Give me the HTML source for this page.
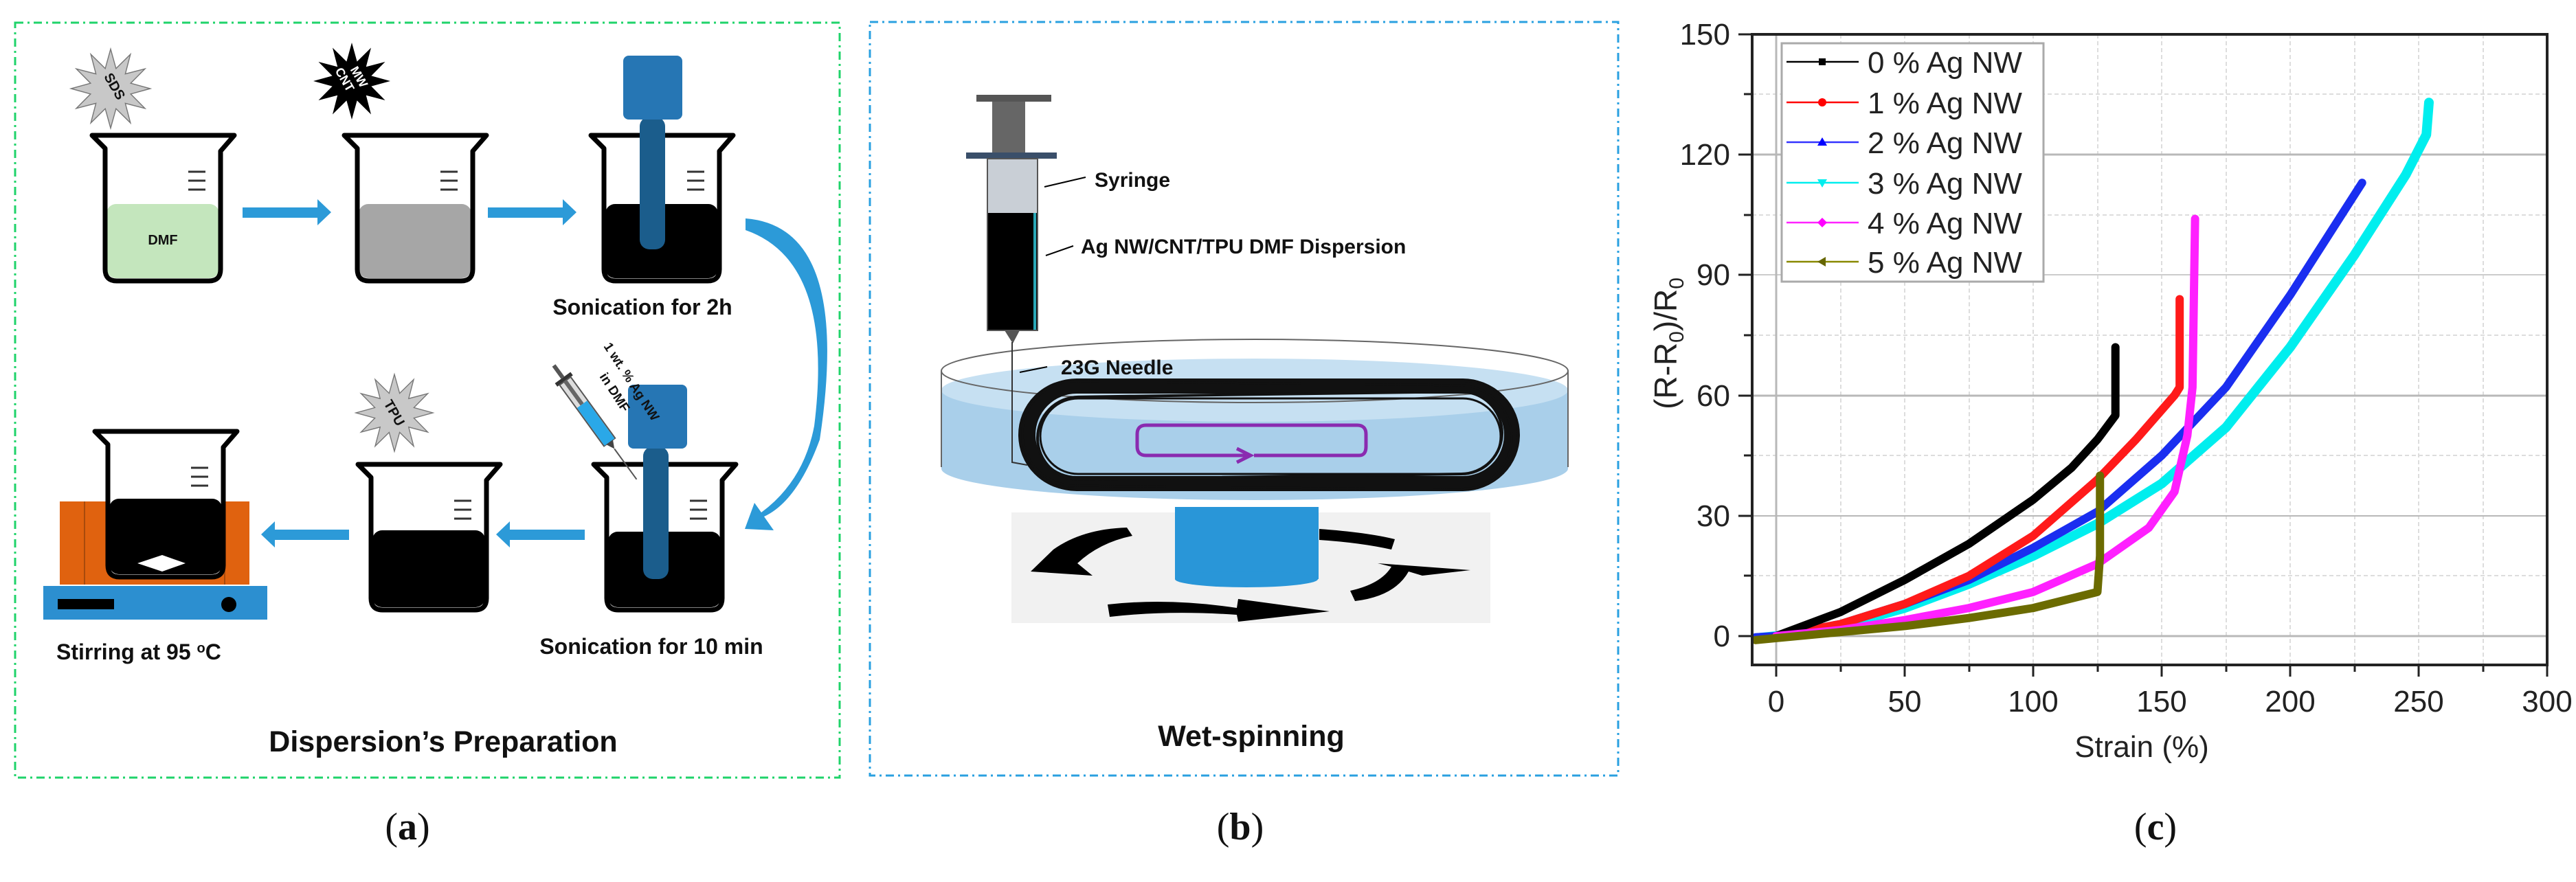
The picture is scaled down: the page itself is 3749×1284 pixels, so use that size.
<!DOCTYPE html>
<html><head><meta charset="utf-8"><style>
html,body{margin:0;padding:0;background:#fff;}
svg{display:block;}
text{font-family:"Liberation Sans",sans-serif;}
.b{font-weight:bold;fill:#111;}
.ser{font-family:"Liberation Serif",serif;font-size:56px;fill:#111;}
</style></head><body>
<svg width="3749" height="1284" viewBox="0 0 3749 1284" xmlns="http://www.w3.org/2000/svg">
<defs>
<g id="beaker">
<path d="M5,3 L212,3 L192,26 L192,198 Q192,215 175,215 L41,215 Q24,215 24,198 L24,22 Z" fill="#fff" stroke="none"/>
</g>
<g id="bkout">
<path d="M5,3 L212,3 L192,26 L192,198 Q192,215 175,215 L41,215 Q24,215 24,198 L24,22 Z" fill="none" stroke="#000" stroke-width="7" stroke-linejoin="round"/>
<line x1="145" y1="56" x2="170" y2="56" stroke="#333" stroke-width="3"/>
<line x1="145" y1="69" x2="170" y2="69" stroke="#333" stroke-width="3"/>
<line x1="145" y1="82" x2="170" y2="82" stroke="#333" stroke-width="3"/>
</g>
<polygon id="star" points="80,0 40.6,10.9 69.3,40 29.7,29.7 40,69.3 10.9,40.6 0,80 -10.9,40.6 -40,69.3 -29.7,29.7 -69.3,40 -40.6,10.9 -80,0 -40.6,-10.9 -69.3,-40 -29.7,-29.7 -40,-69.3 -10.9,-40.6 0,-80 10.9,-40.6 40,-69.3 29.7,-29.7 69.3,-40 40.6,-10.9"/>
</defs>

<!-- ===== Panel a ===== -->
<rect x="22" y="33" width="1200" height="1099" fill="none" stroke="#1fd36a" stroke-width="3" stroke-dasharray="12,6,3,6"/>

<use href="#star" transform="translate(161,129) scale(0.72)" fill="#c8c8c8" stroke="#777" stroke-width="2"/>
<text x="161" y="129" class="b" font-size="20" text-anchor="middle" transform="rotate(60 161 129)">SDS</text>
<use href="#star" transform="translate(512,118) scale(0.7)" fill="#000"/>
<text x="512" y="112" font-size="18" font-weight="bold" fill="#fff" text-anchor="middle" transform="rotate(60 512 118)">MW</text>
<text x="505" y="132" font-size="18" font-weight="bold" fill="#fff" text-anchor="middle" transform="rotate(60 512 118)">CNT</text>
<use href="#star" transform="translate(574,601) scale(0.7)" fill="#c8c8c8" stroke="#777" stroke-width="2"/>
<text x="574" y="608" class="b" font-size="20" text-anchor="middle" transform="rotate(60 574 601)">TPU</text>

<g transform="translate(129,194)"><use href="#beaker"/><rect x="26" y="103" width="164" height="108" rx="14" fill="#c4e6bd"/><use href="#bkout"/>
<text x="108" y="162" class="b" font-size="20" text-anchor="middle">DMF</text></g>
<g transform="translate(496,194)"><use href="#beaker"/><rect x="26" y="103" width="164" height="108" rx="14" fill="#a6a6a6"/><use href="#bkout"/></g>
<g transform="translate(855,194)"><use href="#beaker"/><rect x="26" y="103" width="164" height="108" rx="14" fill="#000"/><use href="#bkout"/></g>
<rect x="931" y="170" width="37" height="193" rx="14" fill="#1b5d8c"/>
<rect x="907" y="81" width="86" height="93" rx="8" fill="#2676b4"/>
<text x="935" y="458" class="b" font-size="32" text-anchor="middle">Sonication for 2h</text>

<g fill="#2c9ad8">
<rect x="353" y="302" width="112" height="15"/><polygon points="462,290 482,309 462,328"/>
<rect x="710" y="302" width="112" height="15"/><polygon points="819,290 839,309 819,328"/>
<rect x="400" y="771" width="108" height="15"/><polygon points="400,759 380,778 400,797"/>
<rect x="742" y="771" width="109" height="15"/><polygon points="742,759 722,778 742,797"/>
<path d="M1085,318 Q1240,330 1193,640 Q1160,730 1112,752 L1126,772 L1084,770 L1098,732 L1108,746 Q1170,700 1185,620 Q1215,380 1085,335 Z"/>
</g>

<g transform="translate(859,673)"><use href="#beaker"/><rect x="26" y="101" width="164" height="110" rx="14" fill="#000"/><use href="#bkout"/></g>
<rect x="936" y="650" width="37" height="193" rx="14" fill="#1b5d8c"/>
<rect x="914" y="560" width="86" height="93" rx="8" fill="#2676b4"/>
<g transform="translate(806,532) rotate(54)">
<rect x="0" y="-3" width="22" height="6" fill="#555"/>
<rect x="22" y="-14" width="6" height="28" fill="#333"/>
<rect x="28" y="-10" width="110" height="20" fill="#ddd" stroke="#555" stroke-width="2"/>
<rect x="70" y="-9" width="68" height="18" fill="#2aa8e8"/>
<rect x="28" y="-3" width="42" height="6" fill="#666"/>
<polygon points="138,-6 150,0 138,6" fill="#444"/>
<line x1="150" y1="0" x2="205" y2="0" stroke="#555" stroke-width="2"/>
</g>
<text x="878" y="504" class="b" font-size="19" transform="rotate(57 878 504)">1 wt. % Ag NW</text>
<text x="872" y="548" class="b" font-size="19" transform="rotate(57 872 548)">in DMF</text>
<text x="948" y="952" class="b" font-size="32" text-anchor="middle">Sonication for 10 min</text>

<g transform="translate(516,673)"><use href="#beaker"/><rect x="26" y="99" width="164" height="112" rx="14" fill="#000"/><use href="#bkout"/></g>

<rect x="87" y="730" width="276" height="121" fill="#e0620f"/>
<line x1="123" y1="730" x2="123" y2="851" stroke="#a84a0c" stroke-width="2"/>
<line x1="327" y1="730" x2="327" y2="851" stroke="#a84a0c" stroke-width="2"/>
<g transform="translate(133,625)"><use href="#beaker"/><rect x="26" y="101" width="164" height="110" rx="14" fill="#000"/><use href="#bkout"/></g>
<polygon points="200,820 236,808 270,820 236,832" fill="#fff"/>
<rect x="63" y="853" width="326" height="49" fill="#2c8fd0"/>
<rect x="84" y="872" width="82" height="15" fill="#000"/>
<circle cx="333" cy="880" r="11" fill="#000"/>
<text x="82" y="960" class="b" font-size="32">Stirring at 95 <tspan font-size="20" dy="-10">o</tspan><tspan dy="10">C</tspan></text>

<text x="645" y="1094" class="b" font-size="43" text-anchor="middle">Dispersion’s Preparation</text>
<text x="593" y="1222" class="ser" text-anchor="middle">(<tspan font-weight="bold">a</tspan>)</text>

<!-- ===== Panel b ===== -->
<rect x="1266" y="32" width="1089" height="1097" fill="none" stroke="#2aa0e0" stroke-width="3" stroke-dasharray="12,6,3,6"/>
<rect x="1472" y="746" width="697" height="161" fill="#f1f1f1"/>
<ellipse cx="1826" cy="682" rx="456" ry="46" fill="#a9cfea"/>
<rect x="1370" y="568" width="912" height="114" fill="#a9cfea"/>
<ellipse cx="1826" cy="568" rx="456" ry="46" fill="#c6e0f2"/>
<ellipse cx="1826" cy="540" rx="456" ry="46" fill="none" stroke="#666" stroke-width="2"/>
<line x1="1370" y1="540" x2="1370" y2="680" stroke="#666" stroke-width="2"/>
<line x1="2282" y1="540" x2="2282" y2="680" stroke="#666" stroke-width="2"/>
<g fill="none" stroke="#111">
<rect x="1496" y="562" width="704" height="142" rx="71" stroke-width="22"/>
<rect x="1484" y="554" width="726" height="158" rx="79" stroke-width="4"/>
<rect x="1488" y="558" width="712" height="152" rx="76" stroke-width="3" transform="rotate(0.6 1844 634)"/>
<rect x="1510" y="574" width="676" height="120" rx="60" stroke-width="4" transform="rotate(-0.8 1844 634)"/>
<rect x="1514" y="580" width="670" height="110" rx="55" stroke-width="3"/>
</g>
<path d="M1825,663 L1978,663 Q1988,663 1988,650 L1988,632 Q1988,619 1975,619 L1668,619 Q1655,619 1655,632 L1655,650 Q1655,663 1668,663 L1815,663" fill="none" stroke="#8a2bb0" stroke-width="5"/>
<polyline points="1800,653 1820,663 1800,673" fill="none" stroke="#8a2bb0" stroke-width="5"/>
<rect x="1710" y="738" width="209" height="105" fill="#2996d8"/>
<ellipse cx="1814" cy="843" rx="104" ry="12" fill="#2996d8"/>
<g fill="#000">
<path d="M1648,780 Q1600,790 1568,820 L1590,838 L1500,832 L1533,800 Q1575,770 1640,768 Z"/>
<path d="M1612,880 Q1700,870 1800,885 L1802,872 L1935,890 L1802,905 L1800,895 Q1700,888 1615,898 Z"/>
<path d="M1920,770 Q1990,775 2030,785 L2025,800 Q1980,790 1920,786 Z"/>
<path d="M1965,860 Q2010,850 2025,825 L2005,820 L2140,830 L2070,838 L2050,832 Q2030,868 1972,875 Z"/>
</g>
<rect x="1421" y="138" width="109" height="10" fill="#555"/>
<rect x="1444" y="148" width="48" height="78" fill="#666"/>
<rect x="1406" y="222" width="132" height="9" fill="#3a4f6a"/>
<rect x="1437" y="231" width="73" height="250" fill="#c9cfd6" stroke="#555" stroke-width="2"/>
<rect x="1438" y="310" width="71" height="170" fill="#000"/>
<rect x="1504" y="310" width="4" height="170" fill="#2aa8b8"/>
<polygon points="1462,481 1484,481 1474,500" fill="#555"/>
<polyline points="1473,498 1473,673 1495,677" fill="none" stroke="#333" stroke-width="2"/>
<line x1="1520" y1="272" x2="1580" y2="258" stroke="#000" stroke-width="2"/>
<line x1="1522" y1="372" x2="1562" y2="358" stroke="#000" stroke-width="2"/>
<line x1="1484" y1="542" x2="1524" y2="534" stroke="#000" stroke-width="2"/>
<text x="1593" y="272" class="b" font-size="30">Syringe</text>
<text x="1573" y="369" class="b" font-size="30">Ag NW/CNT/TPU DMF Dispersion</text>
<text x="1544" y="545" class="b" font-size="30">23G Needle</text>
<text x="1821" y="1086" class="b" font-size="43" text-anchor="middle">Wet-spinning</text>
<text x="1805" y="1222" class="ser" text-anchor="middle">(<tspan font-weight="bold">b</tspan>)</text>

<!-- ===== Panel c ===== -->
<g stroke="#ddd" stroke-width="2" stroke-dasharray="6,4">
<line x1="2550" y1="838" x2="3707" y2="838"/><line x1="2550" y1="751" x2="3707" y2="751"/>
<line x1="2550" y1="663" x2="3707" y2="663"/><line x1="2550" y1="488" x2="3707" y2="488"/>
<line x1="2550" y1="400" x2="3707" y2="400"/><line x1="2550" y1="313" x2="3707" y2="313"/>
<line x1="2550" y1="137" x2="3707" y2="137"/>
<line x1="2772" y1="50" x2="2772" y2="968"/><line x1="2959" y1="50" x2="2959" y2="968"/>
<line x1="3146" y1="50" x2="3146" y2="968"/><line x1="3333" y1="50" x2="3333" y2="968"/>
<line x1="3520" y1="50" x2="3520" y2="968"/>
<line x1="2679" y1="50" x2="2679" y2="968"/><line x1="2866" y1="50" x2="2866" y2="968"/>
<line x1="3053" y1="50" x2="3053" y2="968"/><line x1="3240" y1="50" x2="3240" y2="968"/>
<line x1="3427" y1="50" x2="3427" y2="968"/><line x1="3614" y1="50" x2="3614" y2="968"/>
</g>
<g stroke="#b8b8b8" stroke-width="3">
<line x1="2550" y1="926" x2="3707" y2="926"/><line x1="2550" y1="576" x2="3707" y2="576"/>
<line x1="2550" y1="225" x2="3707" y2="225"/>
<line x1="2550" y1="751" x2="3707" y2="751" stroke-width="2"/>
<line x1="2550" y1="400" x2="3707" y2="400" stroke-width="2" stroke="#ccc"/>
<line x1="2585" y1="50" x2="2585" y2="968"/>
</g>
<g transform="translate(2585,926) scale(3.74,-5.84)" fill="none" stroke-linejoin="round" stroke-linecap="round">
<polyline stroke="#00eeee" points="-8,-0.5 0,0 25,2.5 50,7 75,13 100,20 125,28 150,38 175,52 200,72 225,95 245,115 253,125 254,133" stroke-width="14" vector-effect="non-scaling-stroke"/>
<polyline stroke="#1a2ef0" points="-8,-0.3 0,0 25,3 50,8 75,14 100,22 125,31 150,45 175,62 200,85 215,100 225,110 228,113" stroke-width="12" vector-effect="non-scaling-stroke"/>
<polyline stroke="#00eeee" points="150,38 175,52 200,72 225,95 245,115 253,125 254,133" stroke-width="12" vector-effect="non-scaling-stroke"/>
<polyline stroke="#ff1a1a" points="0,0 25,3 50,8 75,15 100,25 125,39 140,49 155,60 157,62 157,84" stroke-width="12" vector-effect="non-scaling-stroke"/>
<polyline stroke="#000" points="0,0 25,6 50,14 75,23 100,34 115,42 125,49 132,55 132,72" stroke-width="12" vector-effect="non-scaling-stroke"/>
<polyline stroke="#ff20ff" points="0,0 25,1.5 50,4 75,7 100,11 125,18 145,27 155,36 160,50 162,62 163,104" stroke-width="12" vector-effect="non-scaling-stroke"/>
<polyline stroke="#6b6b00" points="-8,-1 0,-0.5 25,1 50,2.5 75,4.5 100,7 125,11 126,20 126,40" stroke-width="12" vector-effect="non-scaling-stroke"/>
</g>
<rect x="2550" y="50" width="1157" height="918" fill="none" stroke="#222" stroke-width="4"/>
<g stroke="#222" stroke-width="3">
<line x1="2530" y1="926" x2="2550" y2="926"/><line x1="2530" y1="751" x2="2550" y2="751"/>
<line x1="2530" y1="576" x2="2550" y2="576"/><line x1="2530" y1="400" x2="2550" y2="400"/>
<line x1="2530" y1="225" x2="2550" y2="225"/><line x1="2530" y1="50" x2="2550" y2="50"/>
<line x1="2538" y1="838" x2="2550" y2="838"/><line x1="2538" y1="663" x2="2550" y2="663"/>
<line x1="2538" y1="488" x2="2550" y2="488"/><line x1="2538" y1="313" x2="2550" y2="313"/>
<line x1="2538" y1="137" x2="2550" y2="137"/>
<line x1="2585" y1="968" x2="2585" y2="985"/><line x1="2772" y1="968" x2="2772" y2="985"/>
<line x1="2959" y1="968" x2="2959" y2="985"/><line x1="3146" y1="968" x2="3146" y2="985"/>
<line x1="3333" y1="968" x2="3333" y2="985"/><line x1="3520" y1="968" x2="3520" y2="985"/>
<line x1="3707" y1="968" x2="3707" y2="985"/>
<line x1="2679" y1="968" x2="2679" y2="978"/><line x1="2866" y1="968" x2="2866" y2="978"/>
<line x1="3053" y1="968" x2="3053" y2="978"/><line x1="3240" y1="968" x2="3240" y2="978"/>
<line x1="3427" y1="968" x2="3427" y2="978"/><line x1="3614" y1="968" x2="3614" y2="978"/>
</g>
<g font-size="44" fill="#222" text-anchor="end">
<text x="2518" y="941">0</text><text x="2518" y="766">30</text><text x="2518" y="591">60</text>
<text x="2518" y="415">90</text><text x="2518" y="240">120</text><text x="2518" y="65">150</text>
</g>
<g font-size="44" fill="#222" text-anchor="middle">
<text x="2585" y="1036">0</text><text x="2772" y="1036">50</text><text x="2959" y="1036">100</text>
<text x="3146" y="1036">150</text><text x="3333" y="1036">200</text><text x="3520" y="1036">250</text>
<text x="3707" y="1036">300</text>
<text x="3117" y="1102">Strain (%)</text>
</g>
<text x="2440" y="500" font-size="46" fill="#222" text-anchor="middle" transform="rotate(-90 2440 500)">(R-R<tspan font-size="30" dy="10">0</tspan><tspan dy="-10">)/R</tspan><tspan font-size="30" dy="10">0</tspan></text>
<rect x="2593" y="63" width="381" height="347" fill="#fff" stroke="#aaa" stroke-width="3"/>
<g stroke-width="2.5">
<line x1="2600" y1="90" x2="2705" y2="90" stroke="#000"/><rect x="2647" y="85" width="10" height="10" fill="#000"/>
<line x1="2600" y1="149" x2="2705" y2="149" stroke="#f00"/><circle cx="2652" cy="149" r="6" fill="#f00"/>
<line x1="2600" y1="207" x2="2705" y2="207" stroke="#33f"/><polygon points="2652,200 2659,212 2645,212" fill="#00f"/>
<line x1="2600" y1="266" x2="2705" y2="266" stroke="#0ee"/><polygon points="2645,261 2659,261 2652,273" fill="#0ee"/>
<line x1="2600" y1="324" x2="2705" y2="324" stroke="#f2f"/><polygon points="2652,317 2659,324 2652,331 2645,324" fill="#f0f"/>
<line x1="2600" y1="381" x2="2705" y2="381" stroke="#880"/><polygon points="2645,381 2657,374 2657,388" fill="#660"/>
</g>
<g font-size="44" fill="#222">
<text x="2718" y="106">0 % Ag NW</text><text x="2718" y="165">1 % Ag NW</text>
<text x="2718" y="223">2 % Ag NW</text><text x="2718" y="282">3 % Ag NW</text>
<text x="2718" y="340">4 % Ag NW</text><text x="2718" y="397">5 % Ag NW</text>
</g>
<text x="3137" y="1222" class="ser" text-anchor="middle">(<tspan font-weight="bold">c</tspan>)</text>
</svg>
</body></html>
